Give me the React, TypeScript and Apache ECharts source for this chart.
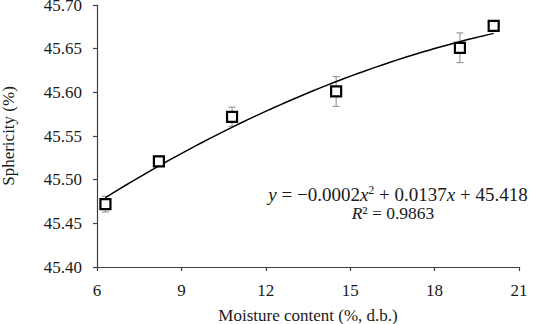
import React, { useEffect, useRef } from "react";
import * as echarts from "echarts";

const moisture = [6.3, 8.2, 10.8, 14.5, 18.9, 20.1];
const sphericity = [45.472, 45.521, 45.572, 45.601, 45.651, 45.676];
const errors = [0.009, 0.006, 0.011, 0.017, 0.017, 0.0];
const xTicks = { min: 6, max: 21, interval: 3 };
const yTicks = { min: 45.4, max: 45.7, interval: 0.05 };
const equationParts = ["−0.0002", "0.0137", "45.418"];
const rSquared = "0.9863";

// least-squares quadratic fit (Excel-style polynomial trendline) of the data
function quadFit(xs: number[], ys: number[]) {
  const n = xs.length;
  let s1 = 0, s2 = 0, s3 = 0, s4 = 0, t0 = 0, t1 = 0, t2 = 0;
  for (let i = 0; i < n; i++) {
    const x = xs[i], y = ys[i];
    s1 += x; s2 += x * x; s3 += x * x * x; s4 += x * x * x * x;
    t0 += y; t1 += x * y; t2 += x * x * y;
  }
  const M = [
    [n, s1, s2, t0],
    [s1, s2, s3, t1],
    [s2, s3, s4, t2],
  ];
  for (let c = 0; c < 3; c++) {
    for (let r = c + 1; r < 3; r++) {
      const f = M[r][c] / M[c][c];
      for (let k = c; k < 4; k++) M[r][k] -= f * M[c][k];
    }
  }
  const sol = [0, 0, 0];
  for (let r = 2; r >= 0; r--) {
    let s = M[r][3];
    for (let k = r + 1; k < 3; k++) s -= M[r][k] * sol[k];
    sol[r] = s / M[r][r];
  }
  return sol; // a0, a1, a2
}

export default function App() {
  const ref = useRef<HTMLDivElement>(null);
  useEffect(() => {
    if (!ref.current) return;
    const chart = echarts.init(ref.current, undefined, { renderer: "svg" });
    const [a0, a1, a2] = quadFit(moisture, sphericity);
    const x0 = moisture[0];
    const x1 = moisture[moisture.length - 1];
    const trend: number[][] = [];
    for (let i = 0; i <= 60; i++) {
      const x = x0 + ((x1 - x0) * i) / 60;
      trend.push([x, a0 + a1 * x + a2 * x * x]);
    }
    const font = "'Liberation Serif', 'Times New Roman', serif";
    const textColor = "#1a1a1a";
    const errData = moisture.map((x, i) => [x, sphericity[i], errors[i]]);
    chart.setOption({
      animation: false,
      textStyle: { fontFamily: font },
      grid: { left: 97, right: 14, top: 5, bottom: 57, containLabel: false, outerBoundsMode: "none" },
      xAxis: {
        type: "value",
        min: xTicks.min,
        max: xTicks.max,
        interval: xTicks.interval,
        name: "Moisture content (%, d.b.)",
        nameLocation: "middle",
        nameGap: 40,
        nameTextStyle: { fontFamily: font, fontSize: 17, color: textColor },
        axisLine: { show: true, lineStyle: { color: "#404040", width: 1.2 } },
        axisTick: { show: true, inside: false, length: 4, lineStyle: { color: "#404040", width: 1.2 } },
        axisLabel: { fontFamily: font, fontSize: 17, color: textColor, margin: 15 },
        splitLine: { show: false },
      },
      yAxis: {
        type: "value",
        min: yTicks.min,
        max: yTicks.max,
        interval: yTicks.interval,
        name: "Sphericity (%)",
        nameLocation: "middle",
        nameGap: 80,
        nameTextStyle: { fontFamily: font, fontSize: 17, color: textColor },
        axisLine: { show: true, lineStyle: { color: "#404040", width: 1.2 } },
        axisTick: { show: true, inside: false, length: 4, lineStyle: { color: "#404040", width: 1.2 } },
        axisLabel: {
          fontFamily: font,
          fontSize: 17,
          color: textColor,
          margin: 15,
          formatter: (v: number) => v.toFixed(2),
        },
        splitLine: { show: false },
      },
      series: [
        {
          type: "custom",
          data: errData,
          z: 1,
          renderItem: (params: any, api: any) => {
            const x = api.value(0);
            const y = api.value(1);
            const e = api.value(2);
            if (!e) return null;
            const top = api.coord([x, y + e]);
            const bot = api.coord([x, y - e]);
            const w = 3.5;
            const style = { stroke: "#8a8a8a", lineWidth: 1 };
            return {
              type: "group",
              children: [
                { type: "line", shape: { x1: top[0], y1: top[1], x2: bot[0], y2: bot[1] }, style },
                { type: "line", shape: { x1: top[0] - w, y1: top[1], x2: top[0] + w, y2: top[1] }, style },
                { type: "line", shape: { x1: bot[0] - w, y1: bot[1], x2: bot[0] + w, y2: bot[1] }, style },
              ],
            };
          },
        },
        {
          type: "line",
          data: trend,
          showSymbol: false,
          smooth: false,
          z: 2,
          lineStyle: { color: "#000", width: 1.5 },
        },
        {
          type: "scatter",
          data: moisture.map((x, i) => [x, sphericity[i]]),
          symbol: "rect",
          symbolSize: 10,
          z: 3,
          itemStyle: { color: "#fff", borderColor: "#000", borderWidth: 2.2, opacity: 1 },
        },
      ],
      graphic: [
        {
          type: "text",
          x: 398,
          y: 194,
          style: {
            text:
              "{i|y} = " + equationParts[0] + "{i|x}{s|2} + " + equationParts[1] + "{i|x} + " + equationParts[2],
            fontFamily: font,
            fontSize: 19,
            fill: textColor,
            align: "center",
            verticalAlign: "middle",
            rich: {
              i: { fontFamily: font, fontSize: 19, fontStyle: "italic", fill: textColor },
              s: { fontFamily: font, fontSize: 12, fill: textColor, verticalAlign: "top", padding: [0, 0, 8, 0] },
            },
          },
        },
        {
          type: "text",
          x: 393,
          y: 213,
          style: {
            text: "{i|R}² = " + rSquared,
            fontFamily: font,
            fontSize: 17.5,
            fill: textColor,
            align: "center",
            verticalAlign: "middle",
            rich: {
              i: { fontFamily: font, fontSize: 17.5, fontStyle: "italic", fill: textColor },
            },
          },
        },
      ],
    });
    return () => chart.dispose();
  }, []);
  return (
    <div
      ref={ref}
      style={{ position: "absolute", left: 0, top: 0, width: 533, height: 324, background: "#fff" }}
    />
  );
}
